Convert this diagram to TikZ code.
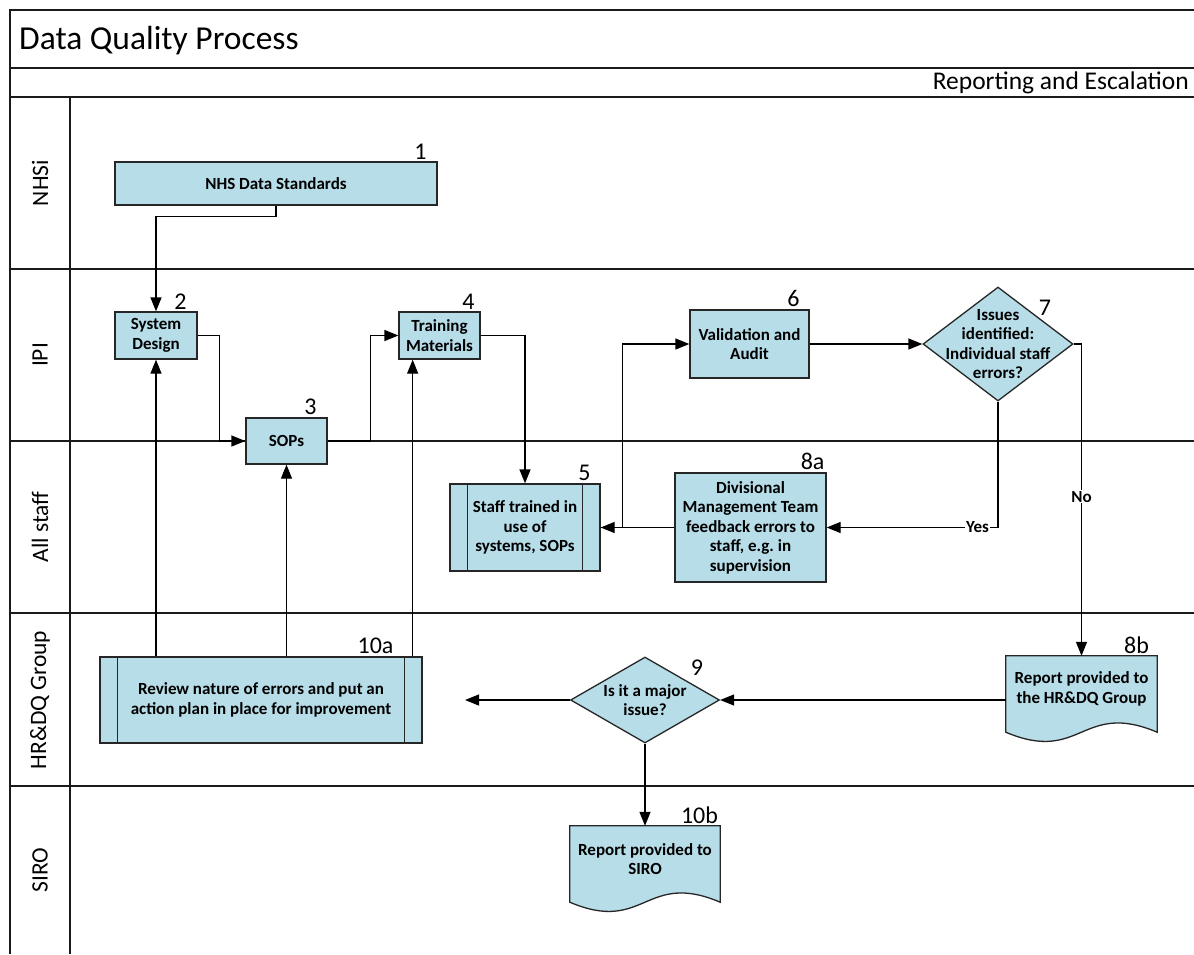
\documentclass[tikz,border=0pt]{standalone}
\usepackage{fontspec}
\setmainfont{Carlito}
\usetikzlibrary{arrows.meta,shapes.geometric,calc,backgrounds}
\definecolor{lblue}{HTML}{B7DDE8}
\definecolor{framec}{HTML}{1A1A1A}
\definecolor{edgec}{HTML}{262626}
\newcommand{\docpath}[1]{%
  \draw[docline] (#1.north west) -- (#1.north east) -- ($(#1.south east)+(0,10)$)
    .. controls ($(#1.south)+(0,-22)$) and ($(#1.south)+(0,42)$) .. ($(#1.south west)+(0,10)$) -- cycle;}
\newcommand{\predbars}[1]{%
  \draw[barline] ([xshift=18pt]#1.north west) -- ([xshift=18pt]#1.south west);
  \draw[barline] ([xshift=-18pt]#1.north east) -- ([xshift=-18pt]#1.south east);}
\begin{document}
\begin{tikzpicture}[x=1pt,y=-1pt,
  framel/.style={draw=framec,line width=1.8pt},
  box/.style={draw=edgec,fill=lblue,line width=1.3pt,align=center,inner sep=0pt,
    font=\bfseries\fontsize{17}{19.5}\selectfont},
  txt/.style={align=center,inner sep=0pt,font=\bfseries\fontsize{17}{19.5}\selectfont},
  dia/.style={diamond,draw=edgec,fill=lblue,line width=1.3pt,inner sep=0pt},
  docline/.style={draw=edgec,fill=lblue,line width=1.3pt},
  barline/.style={draw=edgec,line width=1.3pt},
  num/.style={inner sep=0pt,font=\fontsize{24}{24}\selectfont},
  lane/.style={rotate=90,inner sep=0pt,font=\fontsize{23.5}{23.5}\selectfont},
  conn/.style={draw=black,line width=1.3pt},
  arr/.style={conn,-{Triangle[length=14pt,width=11pt]}},
  lbl/.style={fill=white,inner sep=1pt,font=\bfseries\fontsize{17}{17}\selectfont}
]
\useasboundingbox (0,0) rectangle (1194,954);
% frame
\begin{scope}[on background layer]
\draw[framel] (10,954) -- (10,10) -- (1194,10);
\foreach \yy in {68,97,269,441,613,786} \draw[framel] (10,\yy) -- (1194,\yy);
\draw[framel] (70,97) -- (70,954);
\end{scope}
\node[anchor=west,inner sep=0pt,font=\fontsize{33.5}{33.5}\selectfont] (title) at (19,41) {Data Quality Process};
\node[anchor=east,inner sep=0pt,font=\fontsize{25.5}{25.5}\selectfont] (sub) at (1189,83) {Reporting and Escalation};
% lanes
\node[lane] (l1) at (40,183) {NHSi};
\node[lane] (l2) at (40,355) {IPI};
\node[lane] (l3) at (40,527) {All staff};
\node[lane] (l4) at (40,700) {HR\&DQ Group};
\node[lane] (l5) at (40,870) {SIRO};
% nodes
\node[box,minimum width=322pt,minimum height=43pt] (n1) at (276,183.5) {NHS Data Standards};
\node[box,minimum width=82pt,minimum height=47pt] (n2) at (156,335.5) {System\\Design};
\node[box,minimum width=81pt,minimum height=46pt] (n3) at (286.5,441) {SOPs};
\node[box,minimum width=81pt,minimum height=47pt] (n4) at (439.5,335.5) {Training\\Materials};
\node[box,minimum width=150pt,minimum height=87pt] (n5) at (525,527.5) {Staff trained in\\use of\\systems, SOPs};
\predbars{n5}
\node[box,minimum width=119pt,minimum height=68pt] (n6) at (749.5,344) {Validation and\\Audit};
\node[dia,minimum width=150pt,minimum height=114pt] (n7) at (998,344) {};
\node[txt] (n7t) at (n7.center) {Issues\\identified:\\Individual staff\\errors?};
\node[box,minimum width=151pt,minimum height=109pt] (n8a) at (750.5,527.5) {Divisional\\Management Team\\feedback errors to\\staff, e.g.\ in\\supervision};
\node[txt,minimum width=151pt,minimum height=66pt] (n8b) at (1081.5,689) {Report provided to\\the HR\&DQ Group};
\node[dia,minimum width=149pt,minimum height=86pt] (n9) at (645,700) {};
\node[txt] (n9t) at (n9.center) {Is it a major\\issue?};
\node[box,minimum width=322pt,minimum height=86pt] (n10a) at (261,700) {Review nature of errors and put an\\action plan in place for improvement};
\predbars{n10a}
\node[txt,minimum width=150pt,minimum height=66pt] (n10b) at (645,859) {Report provided to\\SIRO};
\begin{pgfonlayer}{background}
\docpath{n8b}
\docpath{n10b}
\end{pgfonlayer}
% numbers
\node[num,anchor=south east] (k1) at ([xshift=-11pt,yshift=2pt]n1.north east) {1};
\node[num,anchor=south east] (k2) at ([xshift=-11pt,yshift=2pt]n2.north east) {2};
\node[num,anchor=south east] (k3) at ([xshift=-11pt,yshift=2pt]n3.north east) {3};
\node[num,anchor=south east] (k4) at ([xshift=-6pt,yshift=2pt]n4.north east) {4};
\node[num,anchor=south east] (k5) at ([xshift=-10pt,yshift=2pt]n5.north east) {5};
\node[num,anchor=south east] (k6) at ([xshift=-10pt,yshift=2pt]n6.north east) {6};
\node[num] (k7) at (1045,308) {7};
\node[num,anchor=south east] (k8a) at ([xshift=-2pt,yshift=2pt]n8a.north east) {8a};
\node[num,anchor=south east] (k8b) at ([xshift=-8pt,yshift=2pt]n8b.north east) {8b};
\node[num] (k9) at (697,668) {9};
\node[num,anchor=south east] (k10a) at ([xshift=-29pt,yshift=2pt]n10a.north east) {10a};
\node[num,anchor=south east] (k10b) at ([xshift=-2pt,yshift=2pt]n10b.north east) {10b};
% connectors
\draw[arr] (n1.south) -- ++(0,11) -| (n2.north);
\draw[arr] (n2.east) -- ++(22,0) |- (n3.west);
\draw[arr] (n3.east) -- ++(43,0) |- (n4.west);
\draw[arr] (n4.east) -| (n5.north);
\draw[arr] (n8a.west) -- (n5.east);
\draw[arr] (n5.east) -- ++(22,0) |- (n6.west);
\draw[arr] (n6.east) -- (n7.west);
\draw[arr] (n7.south) |- node[lbl,pos=0.56] {Yes} (n8a.east);
\draw[arr] (n7.east) -| node[lbl,pos=0.745] {No} (n8b.north);
\draw[arr] (n8b.west |- n9.east) -- (n9.east);
\coordinate (c9) at (465,700);
\draw[arr] (n9.west) -- (c9);
\draw[arr] (n9.south) -- (n10b.north);
\draw[arr] (n2.south |- n10a.north) -- (n2.south);
\draw[arr] (n3.south |- n10a.north) -- (n3.south);
\coordinate (c10a) at ([xshift=-10pt]n10a.north east);
\draw[arr] (c10a) -- (c10a |- n4.south);
\end{tikzpicture}
\end{document}
